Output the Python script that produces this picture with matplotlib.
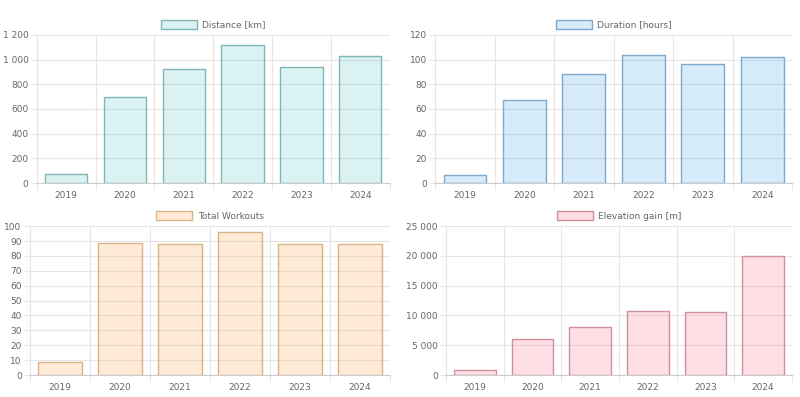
import numpy as np
import matplotlib.pyplot as plt
from matplotlib.ticker import FuncFormatter, FixedLocator

years = ['2019', '2020', '2021', '2022', '2023', '2024']
distance = [75, 698, 925, 1119, 938, 1030]
duration = [6.2, 67.1, 88.2, 103.6, 96.3, 101.9]
workouts = [9, 89, 88, 96, 88, 88]
elevation = [785, 6000, 8016, 10762, 10538, 19955]

labels = ['Distance [km]', 'Duration [hours]', 'Total Workouts', 'Elevation gain [m]']
fills = [(75/255, 192/255, 192/255, 0.2), (54/255, 162/255, 235/255, 0.2),
         (255/255, 159/255, 64/255, 0.2), (255/255, 99/255, 132/255, 0.2)]
edges = ['#7fb5b5', '#7ea8cc', '#d9b585', '#cf8fa0']
ymax = [1200, 120, 100, 25000]
ystep = [200, 20, 10, 5000]

# axes rectangles in figure fractions
rects = [
    [0.046, 0.539, 0.441, 0.373],
    [0.544, 0.539, 0.446, 0.373],
    [0.0375, 0.0554, 0.45, 0.375],
    [0.5575, 0.0554, 0.4325, 0.375],
]

GRID = '#e6e6e6'
TXT = '#666666'


def fmt(v, pos):
    return '{:,}'.format(int(v)).replace(',', ' ')


def draw(ax, data, label, fc, ec, top, step):
    x = np.arange(len(years))
    ax.bar(x, data, width=0.72, color=fc, edgecolor=ec, linewidth=1.0,
           label=label, zorder=3)
    ax.set_xlim(-0.5, len(years) - 0.5)
    ax.set_ylim(0, top)
    ax.set_yticks(np.arange(0, top + step / 2, step))
    ax.yaxis.set_major_formatter(FuncFormatter(fmt))
    ax.set_xticks(x)
    ax.set_xticklabels(years)
    ax.xaxis.set_minor_locator(FixedLocator(np.arange(-0.5, len(years), 1.0)))
    ax.tick_params(axis='x', which='major', length=0, pad=6, labelsize=6.5, colors=TXT)
    ax.tick_params(axis='x', which='minor', length=5, color=GRID, width=0.8)
    ax.tick_params(axis='y', length=4, color=GRID, width=0.8, pad=2,
                   labelsize=6.5, colors=TXT)
    ax.grid(True, axis='y', color=GRID, linewidth=0.8, zorder=0)
    ax.grid(True, axis='x', which='minor', color=GRID, linewidth=0.8, zorder=0)
    for s in ['top', 'right']:
        ax.spines[s].set_visible(False)
    ax.spines['left'].set_color(GRID)
    ax.spines['bottom'].set_color('#cccccc')
    ax.spines['left'].set_linewidth(0.8)
    ax.spines['bottom'].set_linewidth(0.8)
    leg = ax.legend(loc='lower center', bbox_to_anchor=(0.5, 1.0), frameon=False,
                    fontsize=6.5, handlelength=4.0, handleheight=1.2,
                    handletextpad=0.6, borderaxespad=0.2)
    for t in leg.get_texts():
        t.set_color(TXT)


fig = plt.figure(figsize=(8, 3.97), dpi=100)
series = [distance, duration, workouts, elevation]
for i in range(4):
    ax = fig.add_axes(rects[i])
    draw(ax, series[i], labels[i], fills[i], edges[i], ymax[i], ystep[i])

fig.savefig('out.png', dpi=100)
